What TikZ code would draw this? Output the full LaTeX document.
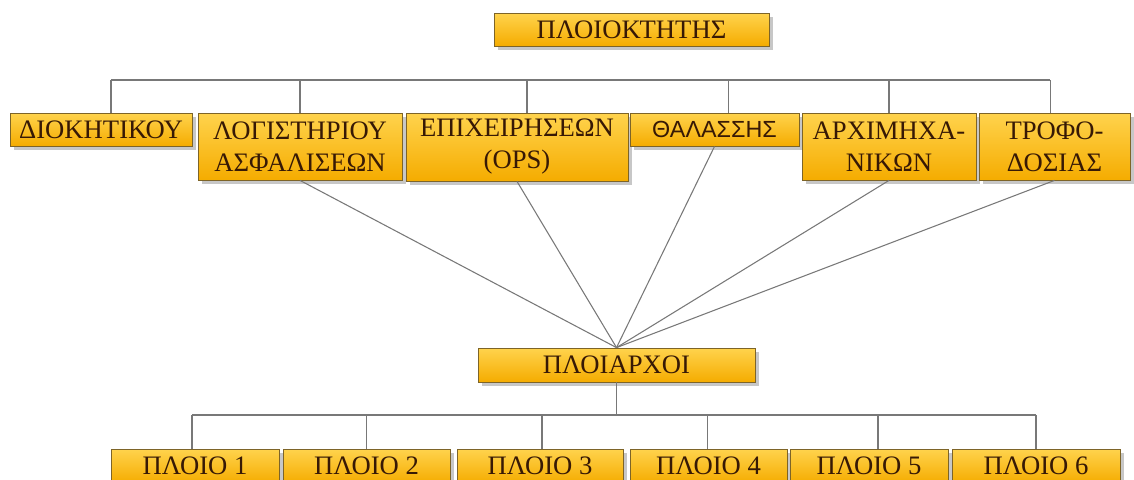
\documentclass[tikz,border=0pt]{standalone}
\usepackage{fontspec}
\setmainfont{Liberation Serif}
\newfontfamily\sansgr{Liberation Sans}
\usepackage{xcolor}
\usetikzlibrary{shadows}

\definecolor{boxtop}{RGB}{255,211,77}
\definecolor{boxbot}{RGB}{245,172,0}
\definecolor{boxline}{RGB}{125,100,40}
\definecolor{boxtext}{RGB}{55,25,5}
\definecolor{linegray}{RGB}{120,120,120}

\tikzset{
  orgbox/.style={draw=boxline, line width=0.6pt, top color=boxtop, bottom color=boxbot,
    drop shadow={shadow xshift=3pt, shadow yshift=-3pt, fill=gray!55, opacity=0.8},
    inner sep=0pt, align=center, text=boxtext,
    font=\fontsize{20}{24}\selectfont},
  conn/.style={draw=linegray, line width=0.8pt}
}

\begin{document}
\begin{tikzpicture}[x=0.75pt,y=0.75pt,yscale=-1,xscale=1]
\useasboundingbox (0,0) rectangle (1134,479);

% Top Node
\node [orgbox, minimum width=206.25pt, minimum height=24.75pt] (owner) at (631.5,29.5) {ΠΛΟΙΟΚΤΗΤΗΣ};

% Department Nodes
\node [orgbox, minimum width=136.5pt, minimum height=24.75pt] (dioik) at (101,129.5) {ΔΙΟΚΗΤΙΚΟΥ};
\node [orgbox, minimum width=153pt, minimum height=50.25pt] (logist) at (300,146.5) {ΛΟΓΙΣΤΗΡΙΟΥ\\ΑΣΦΑΛΙΣΕΩΝ};
\node [orgbox, minimum width=166.5pt, minimum height=51pt] (epix) at (517,147) {ΕΠΙΧΕΙΡΗΣΕΩΝ\\(OPS)};
\node [orgbox, minimum width=126.75pt, minimum height=24.75pt, font=\sansgr\fontsize{17.5}{20}\selectfont] (thal) at (714.5,129.5) {ΘΑΛΑΣΣΗΣ};
\node [orgbox, minimum width=130.5pt, minimum height=50.25pt] (arxim) at (889,146.5) {ΑΡΧΙΜΗΧΑ-\\ΝΙΚΩΝ};
\node [orgbox, minimum width=113.25pt, minimum height=50.25pt] (trofo) at (1054.5,146.5) {ΤΡΟΦΟ-\\ΔΟΣΙΑΣ};

% Captains Node
\node [orgbox, minimum width=207.75pt, minimum height=25.5pt] (ploiarxoi) at (616.5,365) {ΠΛΟΙΑΡΧΟΙ};

% Ship Nodes
\node [orgbox, minimum width=126pt, minimum height=25.5pt] (ploio1) at (195,466) {ΠΛΟΙΟ 1};
\node [orgbox, minimum width=125.25pt, minimum height=25.5pt] (ploio2) at (366.5,466) {ΠΛΟΙΟ 2};
\node [orgbox, minimum width=124.5pt, minimum height=25.5pt] (ploio3) at (540,466) {ΠΛΟΙΟ 3};
\node [orgbox, minimum width=117.75pt, minimum height=25.5pt] (ploio4) at (708.5,466) {ΠΛΟΙΟ 4};
\node [orgbox, minimum width=118.5pt, minimum height=25.5pt] (ploio5) at (869,466) {ΠΛΟΙΟ 5};
\node [orgbox, minimum width=126pt, minimum height=25.5pt] (ploio6) at (1036,466) {ΠΛΟΙΟ 6};

%Straight Lines
\coordinate (busL) at (111,80);
\coordinate (busR) at (1050,80);
\draw [conn] (busL) -- (busR);
\foreach \n/\dx in {dioik/10,logist/0,epix/10,thal/14,arxim/0,trofo/-4}
  \draw [conn] (\n.north) ++(\dx,0) -- ++(0,-33);

%Straight Lines
\foreach \n in {logist,epix,thal,arxim,trofo}
  \draw [conn] (\n.south) -- (ploiarxoi.north);

%Straight Lines
\coordinate (shipL) at (192,415);
\coordinate (shipR) at (1036,415);
\draw [conn] (shipL) -- (shipR);
\draw [conn] (ploiarxoi.south) -- (ploiarxoi.south |- shipL);
\foreach \i/\dx in {1/-3,2/0,3/2,4/-1,5/9,6/0}
  \draw [conn] (ploio\i.north) ++(\dx,0) -- ++(0,-34);

\end{tikzpicture}
\end{document}
